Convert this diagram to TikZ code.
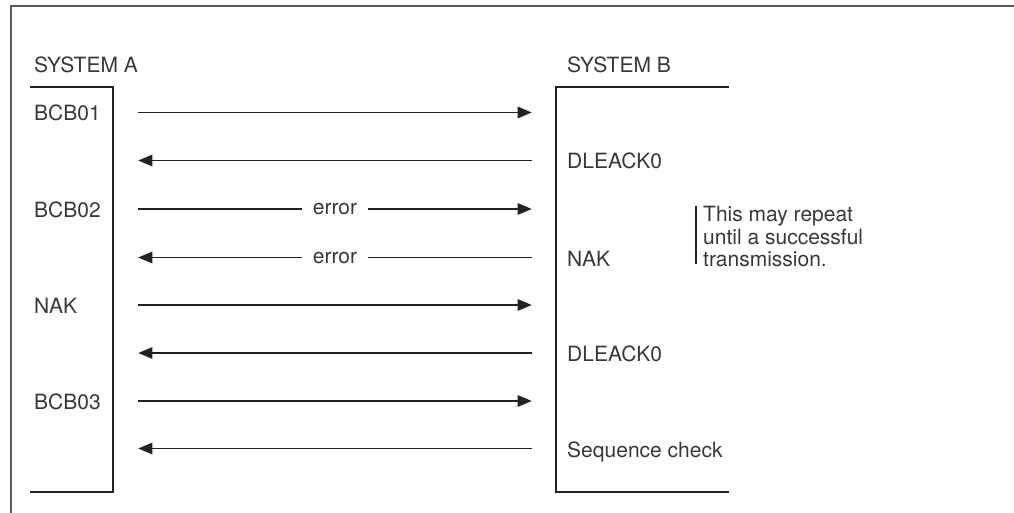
\documentclass[tikz,border=0pt]{standalone}
\usepackage{fontspec}
\setmainfont{TeX Gyre Heros}
\usetikzlibrary{arrows.meta}
\definecolor{txtclr}{HTML}{383838}
\definecolor{frameclr}{HTML}{5A5A5A}
\definecolor{lineclr}{HTML}{222222}
\begin{document}
\begin{tikzpicture}[x=1pt,y=-1pt,
  lbl/.style={anchor=base west, inner sep=0pt, text=txtclr, font=\fontsize{21}{25}\selectfont},
  msg/.style={draw=lineclr, line width=1.4pt, -{Triangle[length=14pt,width=11.5pt]}},
  bar/.style={draw=lineclr, line width=1.8pt},
  errlbl/.style={fill=white, inner xsep=11pt, inner ysep=3pt, text=txtclr, font=\fontsize{21}{25}\selectfont}]
\useasboundingbox (0,0) rectangle (1014,513);
% outer frame
\draw[frameclr, line width=2pt] (11,513) -- (11,5.7) -- (1014,5.7);
% headers
\node[lbl] (sysA) at (34,73) {SYSTEM A};
\node[lbl] (sysB) at (567,73) {SYSTEM B};
% brackets
\draw[bar] (29.5,87.3) -- (113.3,87.3) -- (113.3,491.7) -- (29.5,491.7);
\draw[bar] (729,87.3) -- (555.7,87.3) -- (555.7,491.7) -- (729,491.7);
% lifeline coordinates
\foreach \i/\y in {1/112.5,2/160.5,3/209,4/257.5,5/305,6/353,7/401,8/448.5}{
  \coordinate (A\i) at (138.3,\y);
  \coordinate (B\i) at (531.7,\y);
}
% left labels
\node[lbl] (l1) at (34,121) {BCB01};
\node[lbl] (l3) at (34,217.5) {BCB02};
\node[lbl] (l5) at (34,313.5) {NAK};
\node[lbl] (l7) at (34,409.5) {BCB03};
% right labels
\node[lbl] (r2) at (567,169) {DLEACK0};
\node[lbl] (r4) at (567,266) {NAK};
\node[lbl] (r6) at (567,361.5) {DLEACK0};
\node[lbl] (r8) at (567,457) {Sequence check};
% messages
\draw[msg] (A1) -- (B1);
\draw[msg] (B2) -- (A2);
\draw[msg] (A3) -- node[errlbl] (e1) {error} (B3);
\draw[msg] (B4) -- node[errlbl] (e2) {error} (A4);
\draw[msg] (A5) -- (B5);
\draw[msg] (B6) -- (A6);
\draw[msg] (A7) -- (B7);
\draw[msg] (B8) -- (A8);
% note
\draw[draw=lineclr, line width=1.4pt] (696,206) -- (696,264);
\node[lbl] (n1) at (703,222) {This may repeat};
\node[lbl] (n2) at (703,244) {until a successful};
\node[lbl] (n3) at (703,266) {transmission.};
\end{tikzpicture}
\end{document}
